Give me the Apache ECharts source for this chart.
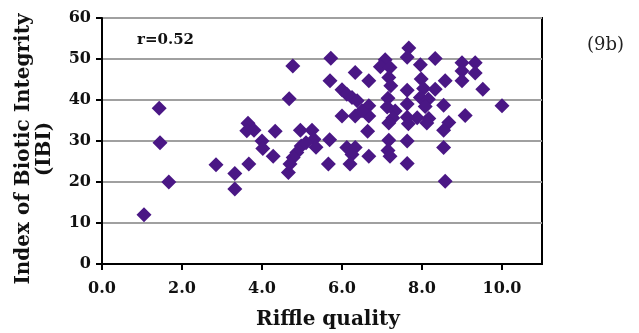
<!DOCTYPE html>
<html>
<head>
<meta charset="utf-8">
<script src="https://cdn.jsdelivr.net/npm/echarts@6/dist/echarts.min.js"></script>
<style>
  html, body { margin: 0; padding: 0; background: #fff; }
  #chart { width: 639px; height: 333px; }
</style>
</head>
<body>
<div id="chart"></div>
<script>
// Riffle quality (x) versus Index of Biotic Integrity (y), one value per site
const riffleQuality = [
  1.05, 1.43, 1.45, 1.67, 2.85, 3.32, 3.32, 3.67, 3.65, 3.62, 3.80,
  4.00, 4.02, 4.33, 4.28, 4.77, 4.68, 4.96, 5.25, 5.30, 5.35, 5.69,
  5.66, 4.98, 4.87, 4.78, 4.66, 4.70, 5.10, 5.72, 5.70, 6.00, 6.12,
  6.33, 6.67, 6.25, 6.38, 6.00, 6.33, 6.67, 6.67, 6.64, 6.50, 6.12,
  6.33, 6.25, 6.20, 6.67, 7.67, 7.63, 7.08, 6.96, 7.20, 7.96, 8.33,
  9.00, 9.33, 9.00, 9.33, 9.00, 8.58, 8.33, 9.52, 10.00, 8.54, 9.08,
  8.67, 8.54, 8.54, 8.58, 7.17, 7.22, 7.63, 7.98, 8.04, 7.96, 8.16,
  8.08, 7.15, 7.13, 7.33, 7.63, 7.88, 8.17, 7.27, 7.17, 7.63, 7.66,
  8.12, 7.17, 7.63, 7.15, 7.20, 7.63
];
const ibiScore = [
  12.0, 38.0, 29.6, 20.0, 24.2, 22.1, 18.3, 24.4, 34.3, 32.5, 32.6,
  30.0, 28.2, 32.4, 26.3, 48.3, 40.3, 32.6, 32.6, 30.4, 28.5, 30.3,
  24.4, 28.8, 27.2, 26.0, 22.3, 24.4, 29.6, 50.2, 44.7, 42.5, 41.4,
  46.7, 44.7, 40.6, 39.8, 36.1, 36.1, 38.6, 36.1, 32.4, 37.4, 28.4,
  28.4, 26.7, 24.4, 26.3, 52.7, 50.4, 49.8, 48.1, 47.9, 48.6, 50.1,
  49.1, 49.1, 47.1, 46.6, 44.7, 44.7, 42.6, 42.6, 38.6, 38.7, 36.2,
  34.5, 32.6, 28.4, 20.2, 45.5, 43.5, 42.4, 45.1, 42.8, 40.6, 40.2,
  38.4, 40.4, 38.3, 37.3, 39.0, 35.7, 35.5, 35.6, 34.4, 35.8, 34.2,
  34.4, 30.2, 30.0, 27.7, 26.3, 24.5
];
const xTicks = [0, 2, 4, 6, 8, 10];
const yTicks = [0, 10, 20, 30, 40, 50, 60];
const correlationLabel = 'r=0.52';
const panelLabel = '(9b)';

const points = riffleQuality.map((x, i) => [x, ibiScore[i]]);
const serif = 'DejaVu Serif';

const chart = echarts.init(document.getElementById('chart'), null, { renderer: 'canvas' });
chart.setOption({
  animation: false,
  backgroundColor: '#ffffff',
  grid: {
    left: 102, right: 97, top: 18, bottom: 69,
    outerBoundsMode: 'none',
    show: true, borderColor: '#000', borderWidth: 2, backgroundColor: 'transparent'
  },
  xAxis: {
    type: 'value',
    min: 0, max: 11, interval: xTicks[1] - xTicks[0],
    name: 'Riffle quality',
    nameLocation: 'middle',
    nameGap: 46,
    nameTextStyle: { fontFamily: serif, fontWeight: 'bold', fontSize: 20, color: '#111', padding: [0, 0, 0, 12] },
    axisLine: { show: true, lineStyle: { color: '#000', width: 2 } },
    axisTick: { show: true, inside: false, length: 6, lineStyle: { color: '#000', width: 2 } },
    axisLabel: {
      margin: 17, showMaxLabel: false,
      fontFamily: serif, fontWeight: 'bold', fontSize: 16, color: '#111',
      formatter: v => xTicks.includes(v) ? v.toFixed(1) : ''
    },
    splitLine: { show: false }
  },
  yAxis: {
    type: 'value',
    min: 0, max: 60, interval: yTicks[1] - yTicks[0],
    name: 'Index of Biotic Integrity\n(IBI)',
    nameLocation: 'middle',
    nameGap: 47,
    nameTextStyle: {
      fontFamily: serif, fontWeight: 'bold', fontSize: 20, color: '#111',
      lineHeight: 21, align: 'center', padding: [0, 16, 0, 0]
    },
    axisLine: { show: true, lineStyle: { color: '#000', width: 2 } },
    axisTick: { show: true, inside: false, length: 6, lineStyle: { color: '#000', width: 2 } },
    axisLabel: {
      margin: 11,
      fontFamily: serif, fontWeight: 'bold', fontSize: 16, color: '#111',
      formatter: v => String(v)
    },
    splitLine: { show: true, lineStyle: { color: '#a0a0a0', width: 2 } }
  },
  series: [{
    type: 'scatter',
    data: points,
    symbol: 'diamond',
    symbolSize: 15,
    itemStyle: { color: '#4a1785', opacity: 1 }
  }],
  graphic: [
    {
      type: 'text', left: 137, top: 33,
      style: { text: correlationLabel, fontFamily: serif, fontWeight: 'bold', fontSize: 15, fill: '#111' }
    },
    {
      type: 'text', left: 587, top: 36,
      style: { text: panelLabel, fontFamily: serif, fontSize: 18, fill: '#222' }
    }
  ]
});
</script>
</body>
</html>
